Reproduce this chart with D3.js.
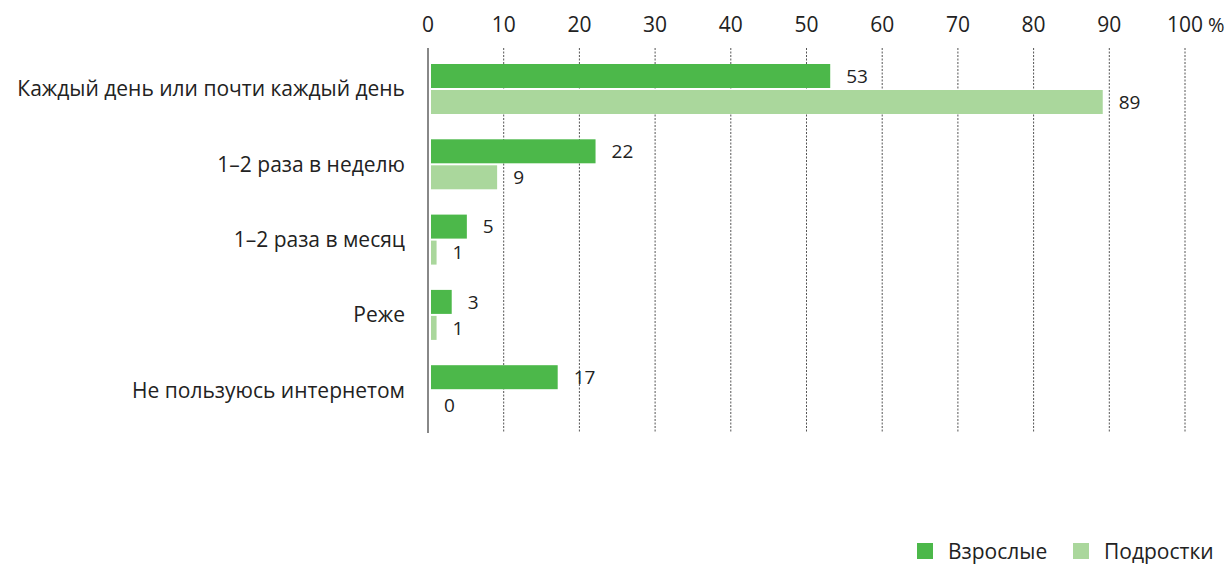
<!DOCTYPE html>
<html>
<head>
<meta charset="utf-8">
<script src="https://cdn.jsdelivr.net/npm/d3@7"></script>
<style>
  body { margin: 0; background: #fff; }
  text { font-family: "Open Sans", "Noto Sans", sans-serif; fill: #222; }
</style>
</head>
<body>
<svg id="chart" width="1231" height="564"></svg>
<script>
var categories = ["Каждый день или почти каждый день", "1–2 раза в неделю", "1–2 раза в месяц", "Реже", "Не пользуюсь интернетом"];
var adults = [53, 22, 5, 3, 17];
var teens = [89, 9, 1, 1, 0];
var ticks = [0, 10, 20, 30, 40, 50, 60, 70, 80, 90, 100];
var seriesNames = ["Взрослые", "Подростки"];
var colors = ["#4cb84a", "#aad79c"];

var svg = d3.select("#chart");
var fontSize = 21;

var x = d3.scaleLinear().domain([0, 100]).range([428, 1185]);
var y = d3.scaleBand().domain(categories).range([64, 64 + 75.3 * categories.length]);

var gridTop = 48, gridBottom = 433;
var barH = 24, barGap = 2, barOff = 3;

// dashed gridlines
svg.selectAll("line.grid")
  .data(ticks.slice(1))
  .enter().append("line")
  .attr("class", "grid")
  .attr("x1", function (d) { return x(d); })
  .attr("x2", function (d) { return x(d); })
  .attr("y1", gridTop).attr("y2", gridBottom)
  .attr("stroke", "#555")
  .attr("stroke-width", 1)
  .attr("stroke-dasharray", "2,1.5");

// tick labels
svg.selectAll("text.tick")
  .data(ticks)
  .enter().append("text")
  .attr("class", "tick")
  .attr("x", function (d) { return x(d); })
  .attr("y", 32)
  .attr("text-anchor", "middle")
  .style("font-size", "21px")
  .text(function (d) { return d; });
svg.append("text")
  .attr("x", x(100) + 23)
  .attr("y", 32)
  .style("font-size", "20px")
  .text("%");

// bars
var groups = svg.selectAll("g.cat")
  .data(categories)
  .enter().append("g")
  .attr("class", "cat")
  .attr("transform", function (d) { return "translate(0," + y(d) + ")"; });

[adults, teens].forEach(function (series, s) {
  groups.append("rect")
    .attr("x", x(0) + barOff)
    .attr("y", s * (barH + barGap))
    .attr("width", function (d, i) { return Math.max(0, x(series[i]) - x(0) - 2); })
    .attr("height", barH)
    .attr("fill", colors[s]);

  groups.append("text")
    .attr("x", function (d, i) { return x(series[i]) + barOff + (series[i] === 0 ? 13 : 14); })
    .attr("y", function (d, i) { return s * (barH + barGap) + barH / 2 + (series[i] === 0 ? 2 : 0); })
    .attr("dy", "0.35em")
    .style("font-size", "19px")
    .text(function (d, i) { return series[i]; });
});

// category labels
groups.append("text")
  .attr("x", 405)
  .attr("y", barH + barGap / 2)
  .attr("dy", "0.35em")
  .attr("text-anchor", "end")
  .style("font-size", fontSize + "px")
  .text(function (d) { return d; });

// zero axis
svg.append("line")
  .attr("x1", x(0)).attr("x2", x(0))
  .attr("y1", gridTop).attr("y2", gridBottom)
  .attr("stroke", "#888")
  .attr("stroke-width", 2);

// legend
var legendX = [917, 1073];
seriesNames.forEach(function (name, s) {
  svg.append("rect")
    .attr("x", legendX[s]).attr("y", 543)
    .attr("width", 16).attr("height", 16)
    .attr("fill", colors[s]);
  svg.append("text")
    .attr("x", legendX[s] + 31).attr("y", 552)
    .attr("dy", "0.35em")
    .style("font-size", "21px")
    .text(name);
});
</script>
</body>
</html>
